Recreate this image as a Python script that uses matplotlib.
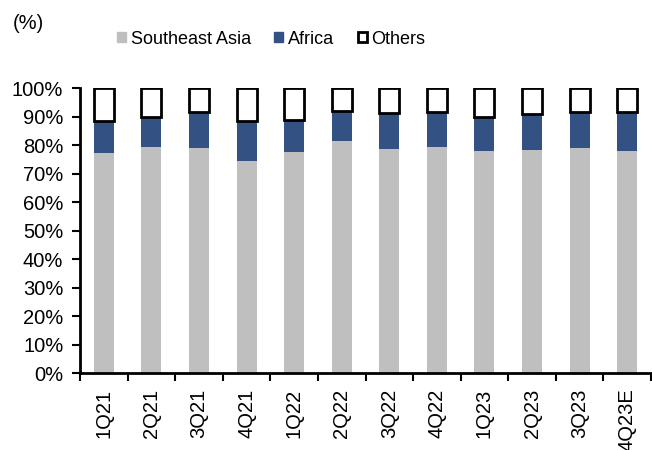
import matplotlib
matplotlib.use("Agg")
import matplotlib.pyplot as plt
from matplotlib.patches import Patch
from matplotlib.ticker import FixedLocator, PercentFormatter
import numpy as np

plt.rcParams['font.family'] = ['Liberation Sans', 'DejaVu Sans']

quarters = ["1Q21", "2Q21", "3Q21", "4Q21", "1Q22", "2Q22", "3Q22", "4Q22",
            "1Q23", "2Q23", "3Q23", "4Q23E"]
southeast_asia = [77.2, 79.3, 78.9, 74.4, 77.8, 81.6, 78.8, 79.4, 78.1, 78.5, 79.1, 77.9]
africa = [11.3, 10.7, 12.7, 14.2, 11.0, 10.5, 12.6, 12.3, 11.9, 12.5, 12.6, 13.9]
others = [11.5, 10.0, 8.4, 11.4, 11.2, 7.9, 8.6, 8.3, 10.0, 9.0, 8.3, 8.2]

fig = plt.figure(figsize=(6.52, 4.5), dpi=100)
ax = fig.add_axes([0.1227, 0.1704, 0.8758, 0.6334])

x = np.arange(len(quarters))
w = 0.42
sea = np.array(southeast_asia)
afr = np.array(africa)
oth = np.array(others)

ax.bar(x, sea, w, color="#BFBFBF", label="Southeast Asia", zorder=2)
ax.bar(x, afr, w, bottom=sea, color="#335283", label="Africa", zorder=2)
ax.bar(x, oth, w, bottom=sea + afr, facecolor="white", edgecolor="black",
       linewidth=2.0, label="Others", zorder=3)

ax.set_xlim(-0.5, len(quarters) - 0.5)
ax.set_ylim(0, 100)
ax.set_yticks(np.arange(0, 101, 10))
ax.yaxis.set_major_formatter(PercentFormatter(decimals=0))
ax.set_xticks(x)
ax.set_xticklabels(quarters, rotation=90, fontsize=14.5)
ax.tick_params(axis='x', which='major', length=0, pad=11)
ax.xaxis.set_minor_locator(FixedLocator(np.arange(-0.5, len(quarters), 1.0)))
ax.tick_params(axis='x', which='minor', length=6, width=1.5, direction='out')
ax.tick_params(axis='y', labelsize=14.5, length=6, width=1.5, direction='out', pad=6)

for s in ['top', 'right']:
    ax.spines[s].set_visible(False)
for s in ['left', 'bottom']:
    ax.spines[s].set_linewidth(2.0)

handles = [Patch(facecolor="#BFBFBF", edgecolor="#BFBFBF", label="Southeast Asia"),
           Patch(facecolor="#335283", edgecolor="#335283", label="Africa"),
           Patch(facecolor="white", edgecolor="black", linewidth=2.0, label="Others")]
fig.legend(handles=handles, loc='center', bbox_to_anchor=(0.416, 0.913), ncol=3,
           frameon=False, fontsize=13, handlelength=0.5, handleheight=0.5,
           handletextpad=0.25, columnspacing=1.3)

fig.text(0.02, 0.947, "(%)", fontsize=14.5, ha='left', va='center')

fig.savefig("out.png", dpi=100)
